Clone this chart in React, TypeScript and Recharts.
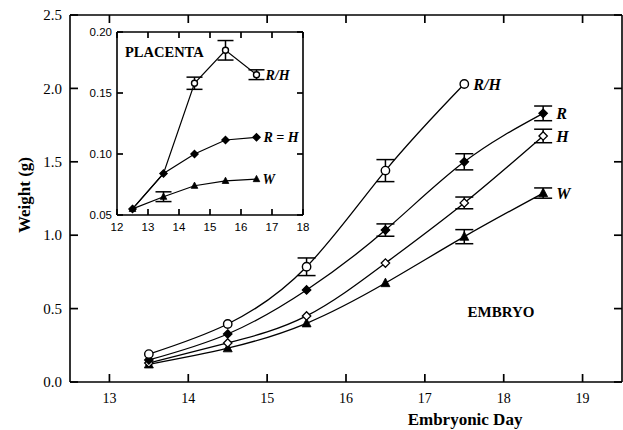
// Embryo / placenta weight by embryonic day (main chart + inset)

import { LineChart, Line, XAxis, YAxis, ErrorBar } from "recharts";

// ---- embryo (main chart) ----
const embryoDays = [13.5, 14.5, 15.5, 16.5, 17.5, 18.5];
const embryoRH = [0.19, 0.395, 0.785, 1.44, 2.03, null];
const embryoRHErr = [0, 0, 0.06, 0.075, 0, null];
const embryoR = [0.15, 0.327, 0.627, 1.035, 1.5, 1.83];
const embryoRErr = [0, 0, 0, 0.042, 0.055, 0.05];
const embryoH = [0.13, 0.266, 0.45, 0.81, 1.22, 1.676];
const embryoHErr = [0, 0, 0, 0, 0.04, 0.046];
const embryoW = [0.12, 0.23, 0.4, 0.674, 0.99, 1.287];
const embryoWErr = [0, 0, 0, 0, 0.048, 0.035];

const dayTicks = [13, 14, 15, 16, 17, 18, 19];
const weightTicks = [0, 0.5, 1, 1.5, 2, 2.5];

// ---- placenta (inset) ----
const placentaDays = [12.5, 13.5, 14.5, 15.5, 16.5];
const placentaRH = [0.055, 0.084, 0.158, 0.185, 0.165];
const placentaRHErr = [0, 0, 0.005, 0.008, 0.004];
const placentaREqH = [0.055, 0.084, 0.1, 0.1115, 0.1137];
const placentaW = [0.055, 0.065, 0.074, 0.078, 0.0795];
const placentaWErr = [0, 0.004, 0, 0, 0];

const insetDayTicks = [12, 13, 14, 15, 16, 17, 18];
const insetWeightTicks = [0.05, 0.1, 0.15, 0.2];

const embryoData = embryoDays.map((day, i) => ({
    day,
    rh: embryoRH[i],
    rhErr: embryoRHErr[i],
    r: embryoR[i],
    rErr: embryoRErr[i],
    h: embryoH[i],
    hErr: embryoHErr[i],
    w: embryoW[i],
    wErr: embryoWErr[i],
}));

const placentaData = placentaDays.map((day, i) => ({
    day,
    rh: placentaRH[i],
    rhErr: placentaRHErr[i],
    reqh: placentaREqH[i],
    w: placentaW[i],
    wErr: placentaWErr[i],
}));

const SERIF = "'Liberation Serif', 'Times New Roman', serif";
const SANS = "'Liberation Sans', Arial, sans-serif";

type Shape = "circle" | "diamond" | "odiamond" | "triangle";

function Marker({ shape, cx, cy, s }: { shape: Shape; cx: number; cy: number; s: number }) {
    if (shape === "circle") {
        return <circle cx={cx} cy={cy} r={s} fill="#fff" stroke="#000" strokeWidth={1.4} />;
    }
    if (shape === "triangle") {
        const pts = `${cx},${cy - s * 1.1} ${cx + s},${cy + s * 0.8} ${cx - s},${cy + s * 0.8}`;
        return <polygon points={pts} fill="#000" stroke="#000" strokeWidth={0.8} />;
    }
    const pts = `${cx},${cy - s} ${cx + s},${cy} ${cx},${cy + s} ${cx - s},${cy}`;
    return (
        <polygon
            points={pts}
            fill={shape === "diamond" ? "#000" : "#fff"}
            stroke="#000"
            strokeWidth={1.3}
        />
    );
}

/**
 * Dot renderer: draws the marker, and the series name next to one point
 */
function makeDot(
    shape: Shape,
    size: number,
    label: string,
    labelIndex: number,
    labelDx: number,
    fontSize: number,
    skip: number[] = []
) {
    return (props: any) => {
        const { cx, cy, index, value } = props;
        const key = `${label}-${index}`;
        if (cx == null || cy == null || value == null || skip.includes(index)) {
            return <g key={key} />;
        }
        return (
            <g key={key}>
                <Marker shape={shape} cx={cx} cy={cy} s={size} />
                {index === labelIndex && (
                    <text
                        x={cx + labelDx}
                        y={cy}
                        dy="0.35em"
                        fontFamily={SERIF}
                        fontStyle="italic"
                        fontWeight="bold"
                        fontSize={fontSize}
                        fill="#000"
                    >
                        {label}
                    </text>
                )}
            </g>
        );
    };
}

type Side = "bottom" | "top" | "left" | "right";

/**
 * Tick renderer: inward tick mark plus (optional) label.
 * Axis uses tickSize 0, so the axis line sits `gap` px from (x, y).
 */
function makeTick(side: Side, len: number, gap: number, font?: { family: string; size: number; digits: number }) {
    return (props: any) => {
        const { x, y, payload } = props;
        let mark;
        if (side === "bottom") mark = <line x1={x} x2={x} y1={y - gap} y2={y - gap - len} />;
        else if (side === "top") mark = <line x1={x} x2={x} y1={y + gap} y2={y + gap + len} />;
        else if (side === "left") mark = <line x1={x + gap} x2={x + gap + len} y1={y} y2={y} />;
        else mark = <line x1={x - gap} x2={x - gap - len} y1={y} y2={y} />;
        return (
            <g>
                <g stroke="#000" strokeWidth={1.7}>{mark}</g>
                {font && (
                    <text
                        x={x}
                        y={y}
                        dy={side === "bottom" ? "0.71em" : "0.35em"}
                        textAnchor={side === "bottom" ? "middle" : "end"}
                        fontFamily={font.family}
                        fontSize={font.size}
                        fill="#000"
                    >
                        {Number(payload.value).toFixed(font.digits)}
                    </text>
                )}
            </g>
        );
    };
}

const axisLine = { stroke: "#000", strokeWidth: 1.6 };

export default function App() {
    return (
        <div style={{ position: "absolute", left: 0, top: 0, width: 623, height: 430, background: "#fff" }}>
            {/* Main chart: embryo */}
            <div style={{ position: "absolute", left: 0, top: 0 }}>
                <LineChart
                    width={623}
                    height={430}
                    data={embryoData}
                    margin={{ top: 14, right: 0, bottom: 47, left: 69 }}
                >
                    <XAxis
                        dataKey="day"
                        type="number"
                        domain={[12.5, 19.5]}
                        ticks={dayTicks}
                        interval={0}
                        allowDataOverflow
                        height={1}
                        tickSize={0}
                        tickMargin={11}
                        tickLine={false}
                        tick={makeTick("bottom", 8, 11, { family: SERIF, size: 14, digits: 0 })}
                        axisLine={axisLine}
                    />
                    <XAxis
                        xAxisId="top"
                        orientation="top"
                        dataKey="day"
                        type="number"
                        domain={[12.5, 19.5]}
                        ticks={dayTicks}
                        interval={0}
                        allowDataOverflow
                        height={1}
                        tickSize={0}
                        tickMargin={0}
                        tickLine={false}
                        tick={makeTick("top", 8, 0)}
                        axisLine={axisLine}
                    />
                    <YAxis
                        type="number"
                        domain={[0, 2.5]}
                        ticks={weightTicks}
                        interval={0}
                        allowDataOverflow
                        width={1}
                        tickSize={0}
                        tickMargin={8}
                        tickLine={false}
                        tick={makeTick("left", 8, 8, { family: SERIF, size: 15, digits: 1 })}
                        axisLine={axisLine}
                    />
                    <YAxis
                        yAxisId="right"
                        orientation="right"
                        type="number"
                        domain={[0, 2.5]}
                        ticks={weightTicks}
                        interval={0}
                        allowDataOverflow
                        width={1}
                        tickSize={0}
                        tickMargin={0}
                        tickLine={false}
                        tick={makeTick("right", 8, 0)}
                        axisLine={axisLine}
                    />

                    <Line
                        dataKey="w"
                        type="natural"
                        stroke="#000"
                        strokeWidth={1.3}
                        isAnimationActive={false}
                        dot={makeDot("triangle", 4.5, "W", 5, 13, 16)}
                    >
                        <ErrorBar dataKey="wErr" direction="y" width={9} stroke="#000" strokeWidth={1.5} />
                    </Line>
                    <Line
                        dataKey="h"
                        type="natural"
                        stroke="#000"
                        strokeWidth={1.3}
                        isAnimationActive={false}
                        dot={makeDot("odiamond", 4.2, "H", 5, 13, 16)}
                    >
                        <ErrorBar dataKey="hErr" direction="y" width={9} stroke="#000" strokeWidth={1.5} />
                    </Line>
                    <Line
                        dataKey="r"
                        type="natural"
                        stroke="#000"
                        strokeWidth={1.3}
                        isAnimationActive={false}
                        dot={makeDot("diamond", 4.2, "R", 5, 13, 16)}
                    >
                        <ErrorBar dataKey="rErr" direction="y" width={9} stroke="#000" strokeWidth={1.5} />
                    </Line>
                    <Line
                        dataKey="rh"
                        type="natural"
                        stroke="#000"
                        strokeWidth={1.3}
                        isAnimationActive={false}
                        dot={makeDot("circle", 4.2, "R/H", 4, 9, 16)}
                    >
                        <ErrorBar dataKey="rhErr" direction="y" width={9} stroke="#000" strokeWidth={1.5} />
                    </Line>
                </LineChart>
            </div>

            {/* Inset: placenta */}
            <div style={{ position: "absolute", left: 85, top: 20 }}>
                <LineChart
                    width={235}
                    height={225}
                    data={placentaData}
                    margin={{ top: 11, right: 16, bottom: 29, left: 31 }}
                >
                    <XAxis
                        dataKey="day"
                        type="number"
                        domain={[12, 18]}
                        ticks={insetDayTicks}
                        interval={0}
                        allowDataOverflow
                        height={1}
                        tickSize={0}
                        tickMargin={8}
                        tickLine={false}
                        tick={makeTick("bottom", 6, 8, { family: SANS, size: 11.5, digits: 0 })}
                        axisLine={axisLine}
                    />
                    <XAxis
                        xAxisId="top"
                        orientation="top"
                        dataKey="day"
                        type="number"
                        domain={[12, 18]}
                        ticks={insetDayTicks}
                        interval={0}
                        allowDataOverflow
                        height={1}
                        tickSize={0}
                        tickMargin={0}
                        tickLine={false}
                        tick={makeTick("top", 6, 0)}
                        axisLine={axisLine}
                    />
                    <YAxis
                        type="number"
                        domain={[0.05, 0.2]}
                        ticks={insetWeightTicks}
                        interval={0}
                        allowDataOverflow
                        width={1}
                        tickSize={0}
                        tickMargin={5}
                        tickLine={false}
                        tick={makeTick("left", 6, 5, { family: SANS, size: 11.5, digits: 2 })}
                        axisLine={axisLine}
                    />
                    <YAxis
                        yAxisId="right"
                        orientation="right"
                        type="number"
                        domain={[0.05, 0.2]}
                        ticks={insetWeightTicks}
                        interval={0}
                        allowDataOverflow
                        width={1}
                        tickSize={0}
                        tickMargin={0}
                        tickLine={false}
                        tick={makeTick("right", 6, 0)}
                        axisLine={axisLine}
                    />

                    <Line
                        dataKey="w"
                        type="linear"
                        stroke="#000"
                        strokeWidth={1.2}
                        isAnimationActive={false}
                        dot={makeDot("triangle", 3.3, "W", 4, 6, 14)}
                    >
                        <ErrorBar dataKey="wErr" direction="y" width={8} stroke="#000" strokeWidth={1.5} />
                    </Line>
                    <Line
                        dataKey="rh"
                        type="linear"
                        stroke="#000"
                        strokeWidth={1.2}
                        isAnimationActive={false}
                        dot={makeDot("circle", 3, "R/H", 4, 9, 14, [0, 1])}
                    >
                        <ErrorBar dataKey="rhErr" direction="y" width={8} stroke="#000" strokeWidth={1.5} />
                    </Line>
                    <Line
                        dataKey="reqh"
                        type="linear"
                        stroke="#000"
                        strokeWidth={1.2}
                        isAnimationActive={false}
                        dot={makeDot("diamond", 3.6, "R = H", 4, 7, 14)}
                    />
                </LineChart>
            </div>

            {/* Titles and panel labels */}
            <svg
                width={623}
                height={430}
                style={{ position: "absolute", left: 0, top: 0, pointerEvents: "none" }}
            >
                <text
                    x={24}
                    y={195}
                    transform="rotate(-90 24 195)"
                    textAnchor="middle"
                    dominantBaseline="central"
                    fontFamily={SERIF}
                    fontWeight="bold"
                    fontSize={17}
                >
                    Weight (g)
                </text>
                <text
                    x={465}
                    y={419}
                    textAnchor="middle"
                    dominantBaseline="central"
                    fontFamily={SERIF}
                    fontWeight="bold"
                    fontSize={17}
                >
                    Embryonic Day
                </text>
                <text
                    x={501}
                    y={312}
                    textAnchor="middle"
                    dominantBaseline="central"
                    fontFamily={SERIF}
                    fontWeight="bold"
                    fontSize={15}
                >
                    EMBRYO
                </text>
                <text
                    x={125}
                    y={52}
                    dominantBaseline="central"
                    fontFamily={SERIF}
                    fontWeight="bold"
                    fontSize={14.5}
                >
                    PLACENTA
                </text>
            </svg>
        </div>
    );
}
